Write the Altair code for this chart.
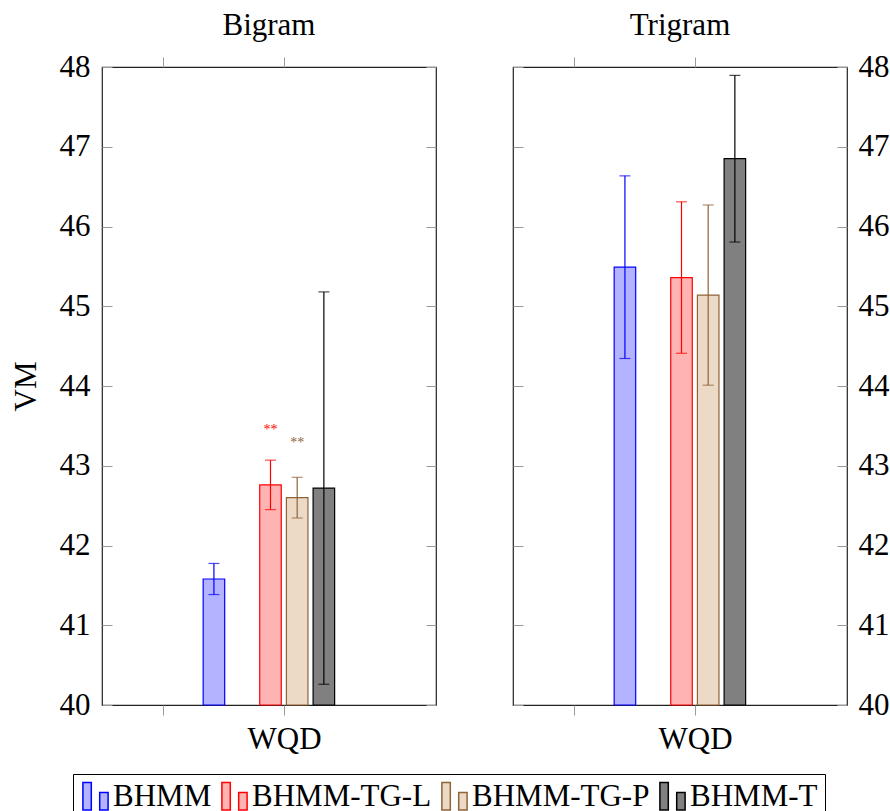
import altair as alt
import pandas as pd

# ---------------- data ----------------
SERIES = ["BHMM", "BHMM-TG-L", "BHMM-TG-P", "BHMM-T"]
PANELS = ["Bigram", "Trigram"]
X_CATEGORY = "WQD"
BIGRAM_VM = [41.58, 42.76, 42.60, 42.72]
BIGRAM_ERR = [0.195, 0.31, 0.255, 2.46]
BIGRAM_SIG = ["", "**", "**", ""]
TRIGRAM_VM = [45.49, 45.36, 45.14, 46.85]
TRIGRAM_ERR = [1.145, 0.95, 1.13, 1.045]
TRIGRAM_SIG = ["", "", "", ""]
Y_TICKS = [40, 41, 42, 43, 44, 45, 46, 47, 48]

# ---------------- styles / layout ----------------
FILL = ["#b3b3ff", "#ffb3b3", "#ecd9c6", "#808080"]
STROKE = ["#0000ff", "#ff0000", "#8f6339", "#000000"]
SLOT = {"BHMM": -2.12, "BHMM-TG-L": 0, "BHMM-TG-P": 1, "BHMM-T": 2}
SLOT_STEP = 0.2205
GROUP_SHIFT = -0.1116
HALF_W = 0.089
FONT = "Liberation Serif"
FS = 31
PW, PH = 334, 638
TICK_GRAY = "#9a9a9a"

LEGEND_PATH = "M-0.9,-1H-0.3V0.95H-0.9Z M0.3,-0.3H0.9V0.95H0.3Z"


def panel_frame(vals, errs, sigs):
    return pd.DataFrame({
        "series": SERIES,
        "cat": [X_CATEGORY] * len(SERIES),
        "vm": vals,
        "err": errs,
        "sig": sigs,
        "slot": [SLOT[s] for s in SERIES],
    })


xscale = alt.Scale(domain=[-1.504, 1.256], nice=False, zero=False)
yscale = alt.Scale(domain=[40, 48], nice=False, zero=False)

legend = alt.Legend(
    title=None, orient="none", legendX=-29, legendY=707,
    direction="horizontal", columns=4,
    symbolType=LEGEND_PATH, symbolSize=784, symbolStrokeWidth=1.5,
    symbolOpacity=1,
    labelFont=FONT, labelFontSize=FS, labelColor="black", labelLimit=400,
    labelOffset=2, columnPadding=6, padding=7, strokeColor="black",
    fillColor="white",
)


def make_panel(name, vals, errs, sigs, left):
    df = panel_frame(vals, errs, sigs)
    base = alt.Chart(df).transform_calculate(
        xc=f"datum.slot * {SLOT_STEP} + ({GROUP_SHIFT})",
        x0=f"datum.slot * {SLOT_STEP} + ({GROUP_SHIFT}) - {HALF_W}",
        x1=f"datum.slot * {SLOT_STEP} + ({GROUP_SHIFT}) + {HALF_W}",
        lo="datum.vm - datum.err",
        hi="datum.vm + datum.err",
    )

    main_y_axis = alt.Axis(
        orient="left" if left else "right", values=Y_TICKS, ticks=False,
        domain=False, grid=False, labelFont=FONT, labelFontSize=FS,
        labelColor="black", labelPadding=12 if left else 11,
        title="VM" if left else None,
        titleFont=FONT, titleFontSize=FS, titleFontWeight="normal",
        titleColor="black", titleX=-76, titleY=PH / 2, titleAngle=270,
        titleBaseline="middle",
    )
    bottom_axis = alt.Axis(
        orient="bottom", values=[-1, 0],
        labelExpr=f"datum.value == 0 ? '{X_CATEGORY}' : ''",
        labelOverlap=False, title=None, grid=False, domain=False,
        tickSize=10, tickColor=TICK_GRAY, tickWidth=1,
        labelFont=FONT, labelFontSize=FS, labelColor="black", labelPadding=9,
    )

    bars = base.mark_rect(strokeWidth=1.2).encode(
        x=alt.X("x0:Q", scale=xscale, axis=bottom_axis),
        x2="x1:Q",
        y=alt.Y("vm:Q", scale=yscale, axis=main_y_axis),
        y2=alt.datum(40),
        fill=alt.Fill("series:N", scale=alt.Scale(domain=SERIES, range=FILL),
                      legend=legend),
        stroke=alt.Stroke("series:N", scale=alt.Scale(domain=SERIES, range=STROKE),
                          legend=legend),
    )

    ecolor = alt.Color("series:N", scale=alt.Scale(domain=SERIES, range=STROKE),
                       legend=None)
    rules = base.mark_rule(strokeWidth=1.2).encode(
        x=alt.X("xc:Q", scale=xscale, axis=None),
        y=alt.Y("lo:Q", scale=yscale, axis=None),
        y2="hi:Q",
        color=ecolor,
    )
    cap_lo = base.mark_tick(orient="horizontal", size=11, thickness=1.2).encode(
        x=alt.X("xc:Q", scale=xscale, axis=None),
        y=alt.Y("lo:Q", scale=yscale, axis=None),
        color=ecolor,
    )
    cap_hi = base.mark_tick(orient="horizontal", size=11, thickness=1.2).encode(
        x=alt.X("xc:Q", scale=xscale, axis=None),
        y=alt.Y("hi:Q", scale=yscale, axis=None),
        color=ecolor,
    )
    sig = base.mark_text(font=FONT, fontSize=14, baseline="alphabetic",
                         dy=-51).encode(
        x=alt.X("xc:Q", scale=xscale, axis=None),
        y=alt.Y("vm:Q", scale=yscale, axis=None),
        text="sig:N",
        color=ecolor,
    )

    # inward ticks at the left edge and the top outward ticks
    guide_a = base.mark_point(opacity=0, size=1).encode(
        x=alt.X("xc:Q", scale=xscale, axis=alt.Axis(
            orient="top", values=[-1, 0], labels=False, title=None,
            grid=False, domain=False, tickSize=10, tickColor=TICK_GRAY)),
        y=alt.Y("vm:Q", scale=yscale, axis=alt.Axis(
            orient="right", offset=-PW, values=Y_TICKS, labels=False,
            title=None, grid=False, domain=False, tickSize=10,
            tickColor=TICK_GRAY)),
    )
    # inward ticks at the right edge
    guide_b = base.mark_point(opacity=0, size=1).encode(
        x=alt.X("xc:Q", scale=xscale, axis=None),
        y=alt.Y("vm:Q", scale=yscale, axis=alt.Axis(
            orient="left", offset=-PW, values=Y_TICKS, labels=False,
            title=None, grid=False, domain=False, tickSize=10,
            tickColor=TICK_GRAY)),
    )

    return alt.layer(bars, rules, cap_lo, cap_hi, sig, guide_a, guide_b).resolve_axis(
        x="independent", y="independent"
    ).properties(
        width=PW, height=PH,
        title=alt.TitleParams(name, font=FONT, fontSize=FS, fontWeight="normal",
                              color="black", anchor="middle", baseline="alphabetic",
                              offset=0, dy=15),
    )


left = make_panel(PANELS[0], BIGRAM_VM, BIGRAM_ERR, BIGRAM_SIG, True)
right = make_panel(PANELS[1], TRIGRAM_VM, TRIGRAM_ERR, TRIGRAM_SIG, False)

chart = alt.hconcat(left, right, spacing=73).properties(
    padding={"left": 9, "top": 9, "right": 0, "bottom": 0},
    background="white",
).configure_view(stroke="#222222", strokeWidth=1.2)

chart.save("out.html", embed_options={"renderer": "svg", "actions": False})
